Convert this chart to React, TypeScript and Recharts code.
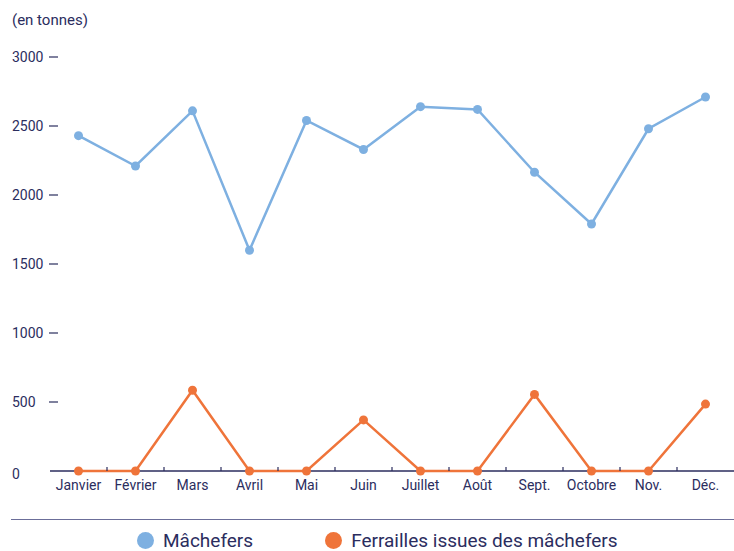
import { LineChart, Line, XAxis, YAxis, Legend } from 'recharts';

const months = ['Janvier', 'Février', 'Mars', 'Avril', 'Mai', 'Juin', 'Juillet', 'Août', 'Sept.', 'Octobre', 'Nov.', 'Déc.'];
const machefers = [2430, 2210, 2610, 1600, 2540, 2330, 2640, 2620, 2165, 1790, 2480, 2710];
const ferrailles = [0, 0, 585, 0, 0, 370, 0, 0, 555, 0, 0, 485];
const yTicks = [0, 500, 1000, 1500, 2000, 2500, 3000];

const data = months.map((m, i) => ({ month: m, machefers: machefers[i], ferrailles: ferrailles[i] }));

const NAVY = '#2b2d5e';
const BLUE = '#7eb0e1';
const ORANGE = '#ef743a';
const FONT = 'Roboto, sans-serif';
const BAND = 57;

function XTick(props: any) {
  const { x, y, payload, index } = props;
  return (
    <g>
      <text x={x} y={y + 19} textAnchor="middle" fill={NAVY} fontSize={14} fontFamily={FONT}>
        {payload.value}
      </text>
      {index < months.length - 1 && (
        <line x1={x + BAND / 2} x2={x + BAND / 2} y1={y} y2={y - 4} stroke={NAVY} strokeWidth={1.2} />
      )}
    </g>
  );
}

function YTick(props: any) {
  const { y, payload } = props;
  const zero = payload.value === 0;
  return (
    <g>
      <text x={12} y={zero ? y + 8 : y + 5} textAnchor="start" fill={NAVY} fontSize={14} fontFamily={FONT}>
        {payload.value}
      </text>
      {!zero && <line x1={49} x2={58} y1={y} y2={y} stroke={NAVY} strokeWidth={1.2} />}
    </g>
  );
}

function LegendBox() {
  const items = [
    { name: 'Mâchefers', color: BLUE },
    { name: 'Ferrailles issues des mâchefers', color: ORANGE },
  ];
  return (
    <div style={{ width: 734, position: 'relative', height: 32 }}>
      <div style={{ position: 'absolute', left: 11, right: 0, top: 0, borderTop: '1.5px solid #6b6e99' }} />
      <div style={{ position: 'absolute', left: 137, top: 11, display: 'flex', alignItems: 'center', fontFamily: FONT, fontSize: 19, lineHeight: '21px', color: NAVY }}>
        {items.map((it, i) => (
          <div key={it.name} style={{ display: 'flex', alignItems: 'center', marginRight: i === 0 ? 72 : 0 }}>
            <span style={{ width: 17, height: 17, borderRadius: '50%', background: it.color, display: 'inline-block', marginRight: 9 }} />
            <span>{it.name}</span>
          </div>
        ))}
      </div>
    </div>
  );
}

export default function App() {
  return (
    <div style={{ position: 'absolute', left: 0, top: 0, width: 734, height: 551, background: '#fff', overflow: 'hidden' }}>
      <div style={{ position: 'absolute', left: 12, top: 11, fontFamily: FONT, fontSize: 15, color: NAVY }}>(en tonnes)</div>
      <LineChart width={734} height={551} data={data} margin={{ top: 57, right: 0, bottom: 79, left: 0 }}>
        <XAxis
          dataKey="month"
          scale="band"
          axisLine={{ stroke: NAVY, strokeWidth: 1.5 }}
          tickLine={false}
          tickSize={0}
          tickMargin={0}
          tick={<XTick />}
          interval={0}
          height={1}
        />
        <YAxis
          domain={[0, 3000]}
          ticks={yTicks}
          width={50}
          axisLine={false}
          tickLine={false}
          tick={<YTick />}
          interval={0}
        />
        <Legend
          layout="horizontal"
          verticalAlign="middle"
          align="center"
          wrapperStyle={{ top: 519, left: 0, width: 734 }}
          content={() => <LegendBox />}
        />
        <Line
          dataKey="machefers"
          stroke={BLUE}
          strokeWidth={2.5}
          dot={{ r: 4.5, fill: BLUE, stroke: 'none' }}
          isAnimationActive={false}
          zIndex={600}
        />
        <Line
          dataKey="ferrailles"
          stroke={ORANGE}
          strokeWidth={2.5}
          dot={{ r: 4.5, fill: ORANGE, stroke: 'none' }}
          isAnimationActive={false}
          zIndex={600}
        />
      </LineChart>
    </div>
  );
}
